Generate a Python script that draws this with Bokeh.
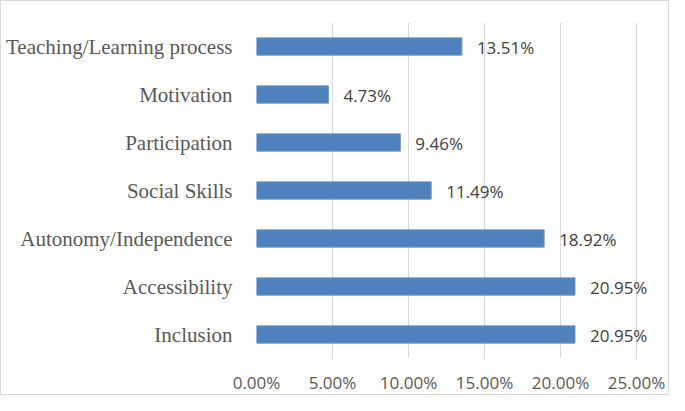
from bokeh.plotting import figure
from bokeh.models import FactorRange, Range1d, ColumnDataSource, PrintfTickFormatter, FixedTicker
from bokeh.core.properties import value
from bokeh.embed import file_html
from bokeh.resources import INLINE

categories = ["Inclusion", "Accessibility", "Autonomy/Independence", "Social Skills",
              "Participation", "Motivation", "Teaching/Learning process"]
percentages = [20.95, 20.95, 18.92, 11.49, 9.46, 4.73, 13.51]
labels = [f"{v:.2f}%" for v in percentages]
x_ticks = [0, 5, 10, 15, 20, 25]

src = ColumnDataSource(dict(cat=categories, val=percentages, lab=labels))

p = figure(width=669, height=395, output_backend="svg", toolbar_location=None,
           y_range=FactorRange(factors=categories, range_padding=0),
           x_range=Range1d(0, 27.1),
           min_border_left=255, min_border_right=2, min_border_top=21, min_border_bottom=10)
p.styles = {"border": "1px solid #d9d9d9"}
p.outline_line_color = None

p.hbar(y="cat", right="val", left=0, height=0.36, source=src,
       fill_color="#4F81BD", line_color="#6C96C8", line_width=1)
p.text(x="val", y="cat", text="lab", source=src, x_offset=15, y_offset=1,
       text_baseline="middle", text_align="left",
       text_font=value("Open Sans"), text_font_size="17px", text_color="#404040")

p.xaxis.ticker = FixedTicker(ticks=x_ticks)
p.xaxis.formatter = PrintfTickFormatter(format="%.2f%%")
for ax in (p.xaxis, p.yaxis):
    ax.axis_line_color = None
    ax.major_tick_line_color = None
    ax.minor_tick_line_color = None
p.xaxis.major_label_text_font = "Open Sans"
p.xaxis.major_label_text_font_size = "17px"
p.xaxis.major_label_text_color = "#595959"
p.xaxis.major_label_standoff = 6
p.yaxis.major_label_text_font = "Liberation Serif"
p.yaxis.major_label_text_font_size = "21px"
p.yaxis.major_label_text_color = "#595959"
p.yaxis.major_label_standoff = 18

p.ygrid.grid_line_color = None
p.xgrid.grid_line_color = "#d9d9d9"
p.xgrid.grid_line_width = 1

open("out.html", "w").write(file_html(p, INLINE))
